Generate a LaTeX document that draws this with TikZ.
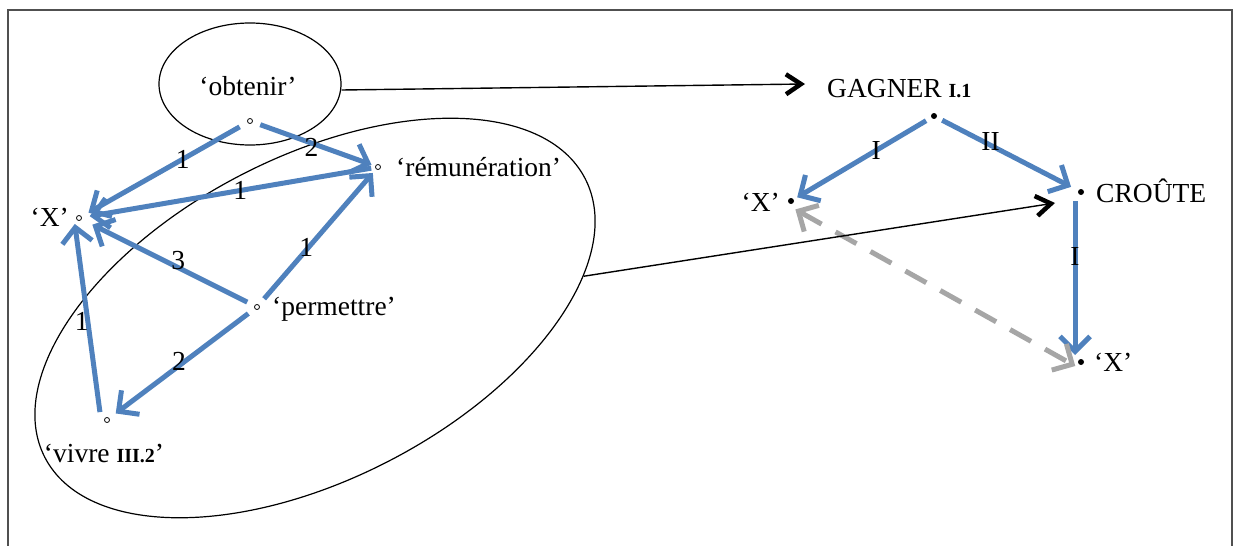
\documentclass[tikz,border=0pt]{standalone}
\usepackage{fontspec}
\setmainfont{Liberation Serif}
\usetikzlibrary{arrows.meta,shapes.geometric}
\definecolor{myblue}{RGB}{79,129,189}
\definecolor{mygray}{RGB}{166,166,166}
\definecolor{framegray}{RGB}{80,80,80}
\begin{document}
\begin{tikzpicture}[x=1pt,y=1pt,
  txt/.style={font=\fontsize{27.5}{32}\selectfont, inner sep=0pt},
  elbl/.style={font=\fontsize{27.5}{32}\selectfont, inner sep=0pt},
  odot/.style={circle,draw,inner sep=0pt,minimum size=5pt,line width=0.8pt},
  fdot/.style={circle,fill,inner sep=0pt,minimum size=6pt},
  bluearr/.style={draw=myblue,line width=5pt,-{Straight Barb[length=15pt,width=30pt]}},
  grayarr/.style={draw=mygray,line width=5pt,dash pattern=on 24pt off 16pt,{Straight Barb[length=15pt,width=30pt]}-{Straight Barb[length=15pt,width=30pt]}},
  blackarr/.style={draw=black,line width=1.4pt,-{Straight Barb[length=15pt,width=20pt,line width=4.5pt]}},
  bubble/.style={ellipse,draw,line width=1.2pt,inner sep=0pt}
]
\useasboundingbox (0,0) rectangle (1237,-546);
\draw[framegray,line width=1.5pt] (8,-546) -- (8,-10) -- (1232,-10) -- (1232,-546);

% ---- left graph ----
\node[bubble,minimum width=182pt,minimum height=122pt] (obell) at (250,-84) {};
\node[bubble,minimum width=608pt,minimum height=322pt,rotate=27.3] (bigell) at (315,-318) {};

\node[odot] (ob) at (250,-121) {};
\node[odot] (rem) at (378,-167) {};
\node[odot] (X1) at (79,-218) {};
\node[odot] (perm) at (257,-307) {};
\node[odot] (viv) at (107,-420) {};

\node[txt,anchor=base] (tob) at (248,-95) {‘obtenir’};
\node[txt,anchor=base west] (trem) at (396,-176) {‘rémunération’};
\node[txt,anchor=base east] (tX1) at (69,-226) {‘X’};
\node[txt,anchor=base west] (tperm) at (272,-315) {‘permettre’};
\node[txt,anchor=base] (tviv) at (104,-462) {‘vivre {\fontsize{20}{24}\selectfont\bfseries III.2}’};

\draw[bluearr,shorten <=9pt,shorten >=8pt] (ob) -- node[elbl,pos=0.39]{1} (X1);
\draw[bluearr,shorten <=8pt,shorten >=4pt] (ob) -- node[elbl,pos=0.48,yshift=-4pt]{2} (rem);
\draw[bluearr,shorten <=4pt,shorten >=8pt] (rem) -- node[elbl,pos=0.46]{1} (X1);
\draw[bluearr,shorten <=8pt,shorten >=12pt] (perm) -- node[elbl,pos=0.44,yshift=7pt]{3} (X1);
\draw[bluearr,shorten <=8pt,shorten >=5pt] (perm) -- node[elbl,pos=0.42,xshift=-2pt]{1} (rem);
\draw[bluearr,shorten <=8pt,shorten >=8pt] (perm) -- node[elbl,pos=0.52,yshift=4pt]{2} (viv);
\draw[bluearr,shorten <=8pt,shorten >=6pt] ([xshift=-6pt]viv.center) -- node[elbl,pos=0.49,xshift=-6pt]{1} ([xshift=-5pt]X1.center);

% ---- right graph ----
\node[fdot] (G) at (934,-116) {};
\node[fdot] (X2) at (791,-201) {};
\node[fdot] (Cr) at (1081,-192) {};
\node[fdot] (X3) at (1081,-362) {};

\node[txt,anchor=base west] (tG) at (827,-97) {GAGNER {\fontsize{20}{24}\selectfont\bfseries I.1}};
\node[txt,anchor=base east] (tX2) at (780,-211) {‘X’};
\node[txt,anchor=base west] (tCr) at (1096,-202) {CROÛTE};
\node[txt,anchor=base west] (tX3) at (1094,-371) {‘X’};

\draw[bluearr,shorten <=6pt,shorten >=4pt] (G) -- node[elbl,pos=0.4]{I} (X2);
\draw[bluearr,shorten <=6pt,shorten >=8pt] (G) -- node[elbl,pos=0.38,yshift=4pt]{II} (Cr);
\draw[bluearr,shorten <=9pt,shorten >=7pt] ([xshift=-6pt]Cr.center) -- node[elbl,pos=0.38]{I} ([xshift=-6pt]X3.center);
\draw[grayarr,shorten <=5pt,shorten >=2pt] ([yshift=-6pt]X2.center) -- ([yshift=-5pt,xshift=-4pt]X3.center);

% ---- black connectors ----
\coordinate (gtip) at (805,-84);
\coordinate (ctip) at (1055,-203);
\draw[blackarr] ([yshift=-6pt]obell.east) -- (gtip);
\draw[blackarr] (bigell) -- (ctip);
\end{tikzpicture}
\end{document}
